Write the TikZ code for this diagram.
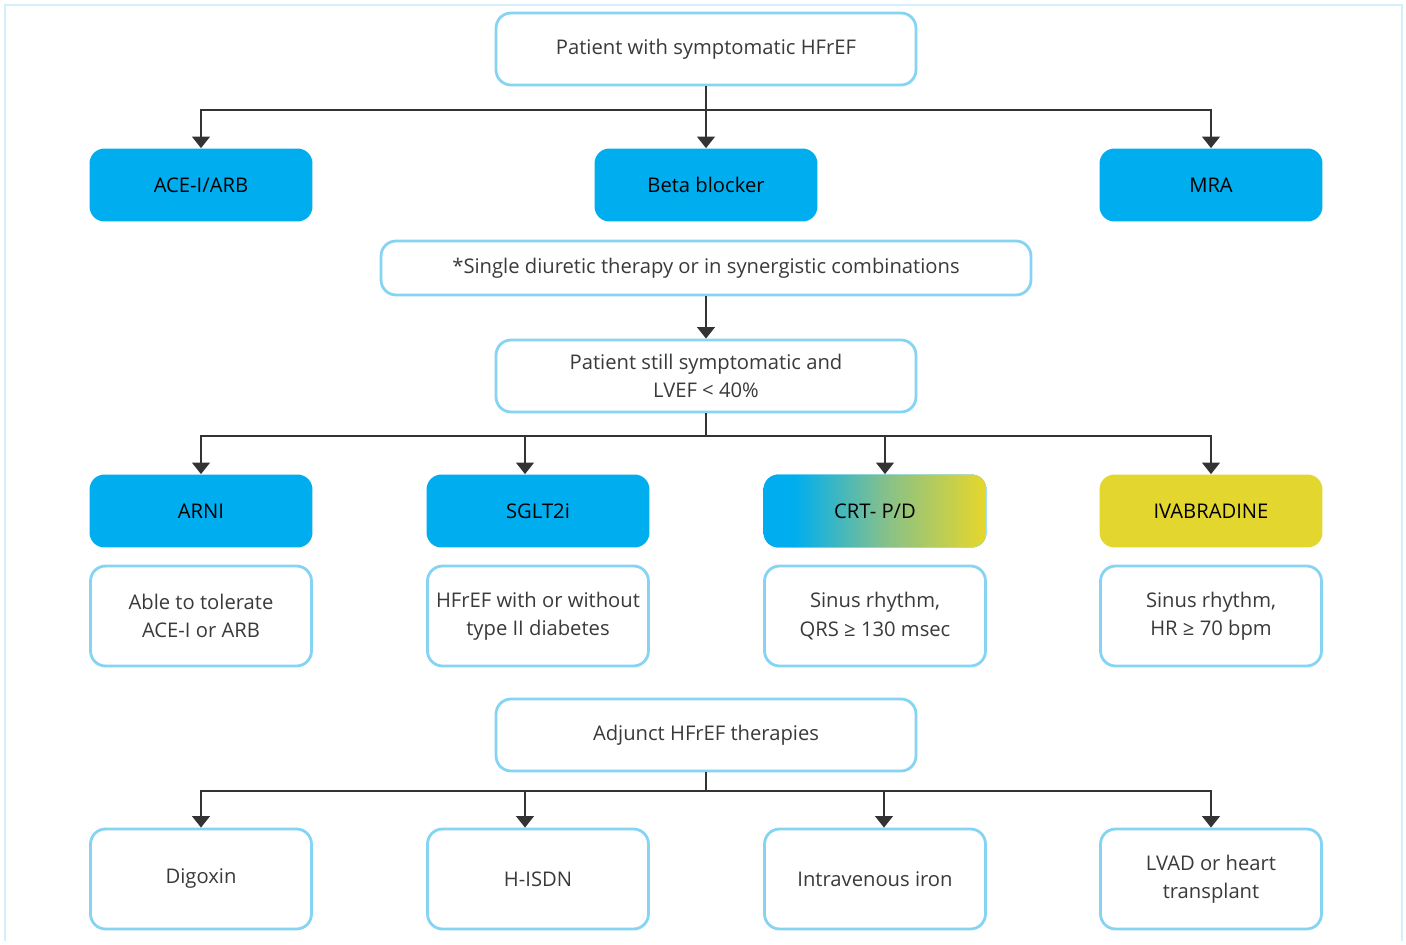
\documentclass[tikz,border=0pt]{standalone}
\usepackage{fontspec}
\setmainfont{Open Sans}
\usetikzlibrary{arrows.meta, positioning}

\definecolor{drugblue}{HTML}{00AEEF}
\definecolor{ivayellow}{HTML}{E3D62E}
\definecolor{crtgreen}{HTML}{84C08C}
\definecolor{edgeblue}{HTML}{86D4F4}
\definecolor{frameblue}{HTML}{D4EEFA}
\definecolor{linegray}{HTML}{333333}
\definecolor{textgray}{HTML}{3A3A3A}
\pgfdeclarehorizontalshading{crtshade}{100bp}{color(0bp)=(drugblue); color(32bp)=(drugblue); color(52bp)=(crtgreen); color(74bp)=(ivayellow); color(100bp)=(ivayellow)}

\begin{document}
\begin{tikzpicture}[x=0.02cm, y=-0.02cm,
  flow/.style={line width=1.1pt, draw=linegray, -{Triangle[length=6.5pt, width=10pt]}},
  bus/.style={line width=1.1pt, draw=linegray},
  outline/.style={draw=edgeblue, line width=1.6pt, fill=white, rounded corners=0.3cm, align=center, text=textgray, font=\fontsize{11.5}{16}\selectfont},
  mainbox/.style={outline, minimum width=8.4cm, minimum height=1.44cm},
  drug/.style={fill=drugblue, rounded corners=0.3cm, minimum width=4.46cm, minimum height=1.46cm, text=black, font=\fontsize{11.5}{16}\selectfont},
  note/.style={outline, minimum width=4.42cm, minimum height=2.0cm}
  ]

  \useasboundingbox (0,0) rectangle (1406,945);
  % Frame
  \draw[frameblue, line width=1pt] (5,941) -- (5,5) -- (1402,5) -- (1402,941);

  % First line therapy
  \node[mainbox] (top) at (706,49) {Patient with symptomatic HFrEF};
  \node[drug] (ace) at (201,185) {ACE-I/ARB};
  \node[drug] (beta) at (706,185) {Beta blocker};
  \node[drug] (mra) at (1211,185) {MRA};
  \node[outline, minimum width=13cm, minimum height=1.08cm] (diur) at (706,268) {*Single diuretic therapy or in synergistic combinations};

  % Second line therapy
  \node[mainbox] (still) at (706,376) {Patient still symptomatic and\\LVEF < 40\%};
  \node[drug] (arni) at (201,511) {ARNI};
  \node[drug] (sglt) at (538,511) {SGLT2i};
  \node[drug, shading=crtshade] (crt) at (875,511) {CRT- P/D};
  \node[drug, fill=ivayellow] (iva) at (1211,511) {IVABRADINE};
  \node[note] (arninote) at (201,616) {Able to tolerate\\ACE-I or ARB};
  \node[note] (scltnote) at (538,616) {HFrEF with or without\\type II diabetes};
  \node[note] (crtnote) at (875,616) {Sinus rhythm,\\QRS ≥ 130 msec};
  \node[note] (ivanote) at (1211,616) {Sinus rhythm,\\HR ≥ 70 bpm};

  % Adjunct therapies
  \node[mainbox] (adj) at (706,735) {Adjunct HFrEF therapies};
  \node[note] (digo) at (201,879) {Digoxin};
  \node[note] (hisdn) at (538,879) {H-ISDN};
  \node[note] (iron) at (875,879) {Intravenous iron};
  \node[note] (lvad) at (1211,879) {LVAD or heart\\transplant};

  % Connectors
  \coordinate (split1) at (706,110);
  \draw[bus] (top.south) -- (split1);
  \draw[flow] (split1) -| (ace.north);
  \draw[flow] (split1) -- (beta.north);
  \draw[flow] (split1) -| (mra.north);

  \draw[flow] (diur.south) -- (still.north);

  \coordinate (split2) at (706,436);
  \draw[bus] (still.south) -- (split2);
  \draw[flow] (split2) -| (arni.north);
  \draw[flow] (split2) -| ([xshift=-0.26cm]sglt.north);
  \draw[flow] (split2) -| ([xshift=0.2cm]crt.north);
  \draw[flow] (split2) -| (iva.north);

  \coordinate (split3) at (706,791);
  \draw[bus] (adj.south) -- (split3);
  \draw[flow] (split3) -| (digo.north);
  \draw[flow] (split3) -| ([xshift=-0.26cm]hisdn.north);
  \draw[flow] (split3) -| ([xshift=0.18cm]iron.north);
  \draw[flow] (split3) -| (lvad.north);

\end{tikzpicture}
\end{document}
